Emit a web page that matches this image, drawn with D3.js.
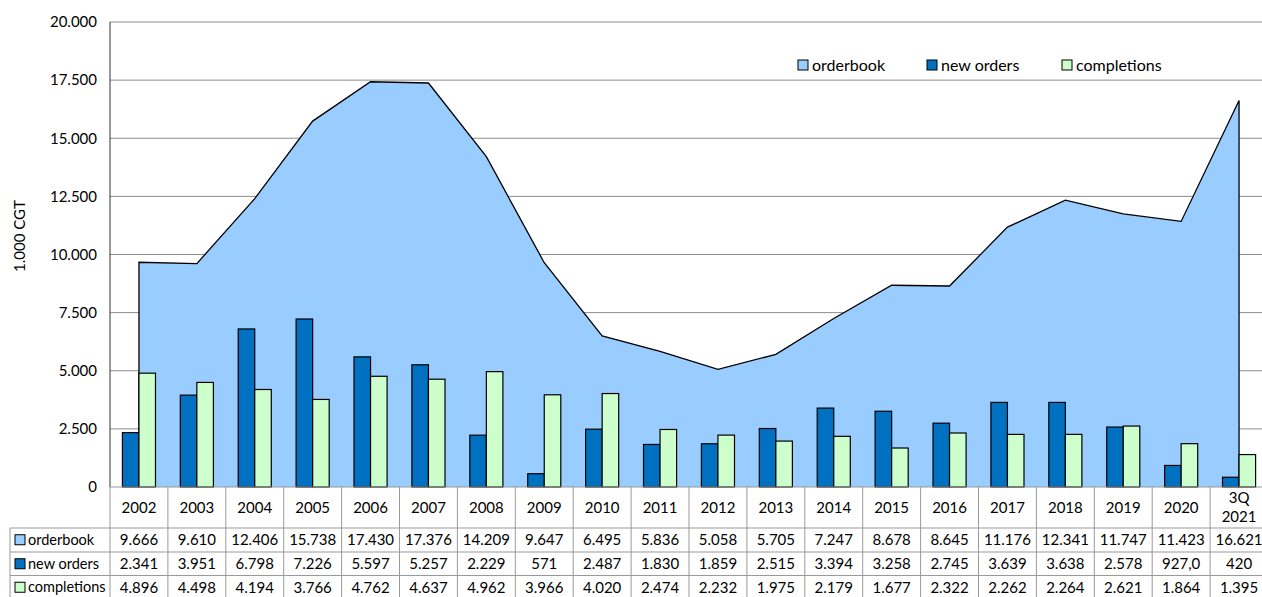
<!DOCTYPE html>
<html>
<head>
<meta charset="utf-8">
<script src="https://d3js.org/d3.v7.min.js"></script>
<style>
  body { margin: 0; background: #fff; }
  svg { font-family: Lato, 'Open Sans', sans-serif; }
</style>
</head>
<body>
<svg id="chart" width="1262" height="597"></svg>
<script>
// data
var years = ["2002","2003","2004","2005","2006","2007","2008","2009","2010","2011",
             "2012","2013","2014","2015","2016","2017","2018","2019","2020","3Q 2021"];
var orderbook = [9666,9610,12406,15738,17430,17376,14209,9647,6495,5836,
                 5058,5705,7247,8678,8645,11176,12341,11747,11423,16621];
var newOrders = [2341,3951,6798,7226,5597,5257,2229,571,2487,1830,
                 1859,2515,3394,3258,2745,3639,3638,2578,927,420];
var completions = [4896,4498,4194,3766,4762,4637,4962,3966,4020,2474,
                   2232,1975,2179,1677,2322,2262,2264,2621,1864,1395];
var yTicks = [0,2500,5000,7500,10000,12500,15000,17500,20000];
var newOrdersText = {18: "927,0"};   // printed with a decimal in the source table

var colors = { orderbook: "#99ccff", newOrders: "#0070c0", completions: "#ccffcc" };

var svg = d3.select("#chart");
var plotLeft = 110, plotRight = 1268, plotTop = 22, plotBottom = 487;

var locale = d3.formatLocale({ decimal: ",", thousands: ".", grouping: [3], currency: ["", ""] });
var fmt = locale.format(",.0f");

var x = d3.scaleBand().domain(years).range([plotLeft, plotRight]);
var inner = d3.scaleBand().domain(["newOrders","completions"])
    .range([0, x.bandwidth()]).paddingOuter(0.75);
var y = d3.scaleLinear().domain([0, 20000]).range([plotBottom, plotTop]);
var cx = function (i) { return x(years[i]) + x.bandwidth() / 2; };

// gridlines
svg.append("g").selectAll("line").data(yTicks.filter(function (d) { return d > 0; }))
  .enter().append("line")
  .attr("x1", plotLeft).attr("x2", plotRight)
  .attr("y1", function (d) { return y(d); }).attr("y2", function (d) { return y(d); })
  .attr("stroke", "#8c8c8c").attr("stroke-width", 1);

// orderbook area
var area = d3.area()
  .x(function (d, i) { return cx(i); })
  .y0(y(0)).y1(function (d) { return y(d); });
svg.append("path").datum(orderbook)
  .attr("d", area).attr("fill", colors.orderbook);

var outline = [[cx(0), y(0)]].concat(orderbook.map(function (d, i) { return [cx(i), y(d)]; }))
  .concat([[cx(orderbook.length - 1), y(0)]]);
svg.append("path").datum(outline)
  .attr("d", d3.line())
  .attr("fill", "none").attr("stroke", "#000").attr("stroke-width", 1.3);

// bars
function bars(values, key) {
  svg.append("g").selectAll("rect").data(values).enter().append("rect")
    .attr("x", function (d, i) { return x(years[i]) + inner(key); })
    .attr("width", inner.bandwidth())
    .attr("y", function (d) { return y(d); })
    .attr("height", function (d) { return y(0) - y(d); })
    .attr("fill", colors[key]).attr("stroke", "#000").attr("stroke-width", 1.2);
}
bars(newOrders, "newOrders");
bars(completions, "completions");

// y axis
svg.append("line").attr("x1", plotLeft).attr("x2", plotLeft).attr("y1", plotTop).attr("y2", plotBottom)
  .attr("stroke", "#333");
svg.append("g").selectAll("text").data(yTicks).enter().append("text")
  .attr("x", 97).attr("y", function (d) { return y(d); })
  .attr("dy", "0.35em").attr("text-anchor", "end")
  .attr("font-size", 15).attr("fill", "#000")
  .text(function (d) { return fmt(d); });
svg.append("text")
  .attr("transform", "translate(20,236) rotate(-90)")
  .attr("text-anchor", "middle").attr("dy", "0.35em").attr("font-size", 15).text("1.000 CGT");

// data table
var rowTops = [528, 552, 575.5];
var rowH = 23.5;
var tg = svg.append("g").attr("stroke", "#999").attr("stroke-width", 1);
tg.append("line").attr("x1", plotLeft).attr("x2", plotRight).attr("y1", plotBottom).attr("y2", plotBottom);
rowTops.forEach(function (r) {
  tg.append("line").attr("x1", 10).attr("x2", plotRight).attr("y1", r).attr("y2", r);
});
tg.append("line").attr("x1", 10).attr("x2", 10).attr("y1", rowTops[0]).attr("y2", 597);
years.forEach(function (yr) {
  tg.append("line").attr("x1", x(yr)).attr("x2", x(yr)).attr("y1", plotBottom).attr("y2", 597);
});

// header years
svg.append("g").selectAll("text").data(years).enter().append("text")
  .attr("text-anchor", "middle").attr("font-size", 15)
  .each(function (d, i) {
    var parts = d.split(" ");
    var t = d3.select(this);
    parts.forEach(function (p, k) {
      t.append("tspan").attr("x", cx(i))
        .attr("y", (plotBottom + rowTops[0]) / 2 + (k - (parts.length - 1) / 2) * 19)
        .attr("dy", "0.35em").text(p);
    });
  });

var rows = [
  { name: "orderbook", key: "orderbook", values: orderbook, over: {} },
  { name: "new orders", key: "newOrders", values: newOrders, over: newOrdersText },
  { name: "completions", key: "completions", values: completions, over: {} }
];
rows.forEach(function (row, r) {
  var mid = rowTops[r] + rowH / 2;
  svg.append("rect").attr("x", 15).attr("y", mid - 5).attr("width", 10).attr("height", 10)
    .attr("fill", colors[row.key]).attr("stroke", "#000").attr("stroke-width", 1);
  svg.append("text").attr("x", 28).attr("y", mid).attr("dy", "0.35em")
    .attr("font-size", 14.5).text(row.name);
  svg.append("g").selectAll("text").data(row.values).enter().append("text")
    .attr("x", function (d, i) { return cx(i); }).attr("y", mid).attr("dy", "0.35em")
    .attr("text-anchor", "middle").attr("font-size", 15)
    .text(function (d, i) { return row.over[i] || fmt(d); });
});

// legend
var legend = [
  { name: "orderbook", key: "orderbook", x: 798 },
  { name: "new orders", key: "newOrders", x: 927 },
  { name: "completions", key: "completions", x: 1062 }
];
var lg = svg.append("g").selectAll("g").data(legend).enter().append("g")
  .attr("transform", function (d) { return "translate(" + d.x + ",65)"; });
lg.append("rect").attr("x", 0).attr("y", -5).attr("width", 10).attr("height", 10)
  .attr("fill", function (d) { return colors[d.key]; }).attr("stroke", "#000");
lg.append("text").attr("x", 14).attr("dy", "0.35em").attr("font-size", 16)
  .text(function (d) { return d.name; });
</script>
</body>
</html>
